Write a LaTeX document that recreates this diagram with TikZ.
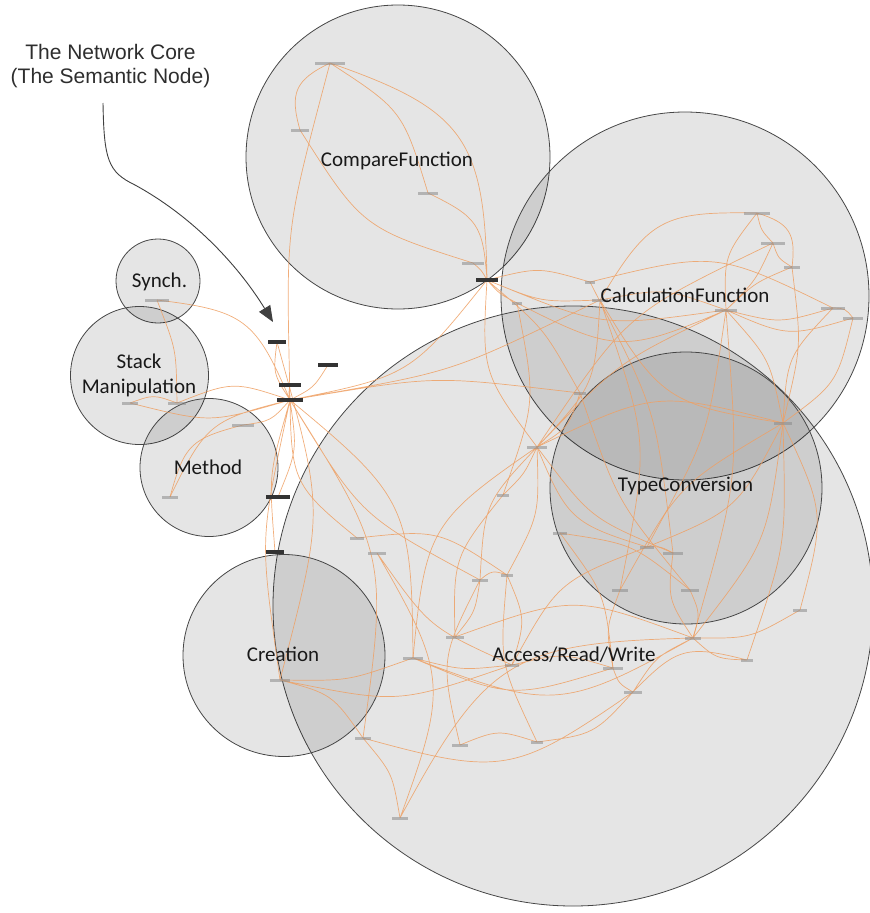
\documentclass[tikz,border=0pt]{standalone}
\usepackage{fontspec}
\usetikzlibrary{arrows.meta}
\newfontfamily\lblfont{Carlito}
\newfontfamily\notefont{Liberation Sans}
\definecolor{ringgray}{RGB}{70,70,70}
\definecolor{edgeor}{RGB}{238,160,100}
\definecolor{notegray}{RGB}{64,64,64}

\tikzset{
  group/.style={circle, draw=ringgray, line width=0.8pt, fill=black, fill opacity=0.1, inner sep=0pt, minimum size=#1},
  grouplbl/.style={font=\lblfont\fontsize{21}{25}\selectfont, text=black!90, align=center},
  edge/.style={draw=edgeor, line width=0.7pt, opacity=0.85, looseness=1.35},
  tag/.style={fill=black!80, inner sep=0pt, minimum width=#1, minimum height=4pt},
  tag/.default=16pt,
  faint/.style={fill=black!45, fill opacity=0.55, inner sep=0pt, minimum width=#1, minimum height=3pt},
  faint/.default=14pt,
}

\begin{document}
\begin{tikzpicture}[x=1pt,y=-1pt]
    \useasboundingbox (0,0) rectangle (870,913);
    % groups
    \node[group=304pt] (cmp) at (398,157) {};
    \node[group=368pt] (calc) at (685,296) {};
    \node[group=600pt] (acc) at (573,606) {};
    \node[group=272pt] (conv) at (686,488) {};
    \node[group=84pt] (sync) at (158,281) {};
    \node[group=138pt] (stack) at (139.5,375.5) {};
    \node[group=138pt] (meth) at (209,467.5) {};
    \node[group=202pt] (crea) at (284,655.5) {};
    % semantic nodes
    \coordinate (core) at (290,400);
    \coordinate (c1) at (277,342);
    \coordinate (c2) at (328,365);
    \coordinate (c3) at (290,385);
    \coordinate (c4) at (278,497);
    \coordinate (c5) at (275,552);
    \coordinate (cmphub) at (487,280);
    \coordinate (cmp1) at (473,263);
    \coordinate (cmptop) at (330,63);
    \coordinate (cmp2) at (300,130);
    \coordinate (cmp3) at (428,193);
    \coordinate (syn1) at (157,300);
    \coordinate (stk1) at (130,403);
    \coordinate (stk2) at (177,403);
    \coordinate (met1) at (243,425);
    \coordinate (met2) at (170,497);
    \coordinate (cre1) at (280,680);
    \coordinate (cre2) at (363,738);
    \coordinate (cre3) at (400,818);
    \coordinate (cre4) at (357,538);
    \coordinate (cre5) at (377,553);
    \coordinate (acc1) at (480,580);
    \coordinate (acc2) at (507,575);
    \coordinate (acc3) at (455,637);
    \coordinate (acc4) at (413,658);
    \coordinate (acc5) at (512,665);
    \coordinate (acc6) at (613,668);
    \coordinate (acc7) at (633,692);
    \coordinate (acc8) at (693,638);
    \coordinate (acc9) at (460,745);
    \coordinate (acc10) at (537,742);
    \coordinate (acc11) at (747,660);
    \coordinate (acc12) at (537,447);
    \coordinate (acc13) at (503,495);
    \coordinate (acc14) at (560,533);
    \coordinate (cal1) at (600,300);
    \coordinate (cal2) at (726,310);
    \coordinate (cal3) at (757,213);
    \coordinate (cal4) at (773,243);
    \coordinate (cal5) at (792,267);
    \coordinate (cal6) at (833,308);
    \coordinate (cal7) at (853,318);
    \coordinate (cal8) at (580,393);
    \coordinate (cal9) at (517,303);
    \coordinate (cal10) at (590,282);
    \coordinate (conv1) at (783,423);
    \coordinate (conv2) at (647,547);
    \coordinate (conv3) at (673,553);
    \coordinate (conv4) at (620,590);
    \coordinate (conv5) at (690,590);
    \coordinate (conv6) at (800,610);
    % connectors
    \draw[edge] (core) to[bend left=20] (c1) (core) to[bend right=15] (c2)
        (core) to[bend left=10] (c3) (core) to[bend left=8] (cmptop)
        (core) to[bend right=20] (cmphub) (core) to[bend right=8] (cal1)
        (core) to[bend left=8] (cal8) (core) to[bend left=25] (acc4)
        (core) to[bend right=10] (cre1) (core) to[bend left=15] (c4)
        (core) to[bend right=10] (c5) (core) to[bend right=20] (stk2)
        (core) to[bend left=15] (stk1) (core) to[bend left=20] (met1)
        (core) to[bend right=25] (met2) (core) to[bend right=30] (syn1)
        (core) to[bend left=20] (cre2) (core) to[bend right=15] (acc1)
        (core) to[bend right=25] (cre4);
    \draw[edge] (cmptop) to[bend right=40] (cmp2) (cmptop) to[bend left=20] (cmp3)
        (cmptop) to[bend left=35] (cmphub) (cmp3) to[bend left=30] (cmphub)
        (cmp1) to[bend left=10] (cmphub) (cmphub) to[bend right=10] (cal9)
        (cmphub) to[bend right=12] (cal1) (cmphub) to[bend right=15] (cal2)
        (cmphub) to[bend right=20] (acc12) (cmphub) to[bend left=10] (cal8)
        (cmphub) to[bend left=15] (cal10) (cmp2) to[bend right=20] (cmp1);
    \draw[edge] (cal2) to[bend left=20] (cal3) (cal2) to[bend right=10] (cal4)
        (cal2) to[bend left=10] (cal5) (cal2) to[bend right=15] (cal6)
        (cal2) to[bend right=20] (cal7) (cal2) to[bend left=10] (conv2)
        (cal2) to[bend left=10] (acc8) (cal2) to[bend right=15] (cal1)
        (cal2) to[bend right=10] (acc12) (cal2) to[bend left=15] (conv1)
        (cal3) to[bend left=40] (cal5) (cal4) to[bend right=20] (cal5)
        (cal5) to[bend left=10] (conv1) (cal6) to[bend right=20] (conv1)
        (cal7) to[bend left=20] (conv1) (cal3) to[bend right=30] (cal1)
        (cal4) to[bend right=15] (acc12) (cal1) to[bend left=20] (acc12)
        (cal1) to[bend right=25] (conv1) (cal1) to[bend left=15] (conv4)
        (cal8) to[bend right=10] (conv5) (cal8) to[bend left=20] (acc12)
        (cal9) to[bend right=25] (cal2) (cal10) to[bend left=20] (cal6)
        (cal9) to[bend left=15] (acc13) (cal10) to[bend left=10] (conv3)
        (cal6) to[bend left=25] (cal7) (cal3) to[bend right=15] (cal4);
    \draw[edge] (conv1) to[bend left=20] (conv2) (conv1) to[bend right=15] (conv4)
        (conv1) to[bend left=15] (acc8) (conv1) to[bend right=20] (acc12)
        (conv1) to[bend left=10] (acc11) (conv2) to[bend left=15] (conv3)
        (conv3) to[bend right=20] (acc8) (conv2) to[bend left=25] (acc12)
        (conv4) to[bend right=15] (acc6) (conv5) to[bend left=20] (acc8)
        (conv6) to[bend right=20] (conv1) (conv6) to[bend left=15] (acc8)
        (conv5) to[bend right=15] (acc14) (conv2) to[bend right=20] (acc5);
    \draw[edge] (acc12) to[bend right=20] (acc1) (acc12) to[bend left=15] (acc2)
        (acc12) to[bend left=10] (acc13) (acc12) to[bend right=25] (acc4)
        (acc12) to[bend right=15] (conv3) (acc1) to[bend left=30] (acc2)
        (acc1) to[bend left=15] (acc3) (acc1) to[bend right=20] (acc9)
        (acc2) to[bend left=20] (acc5) (acc2) to[bend right=15] (acc10)
        (acc4) to[bend right=10] (acc5) (acc4) to[bend right=20] (acc6)
        (acc4) to[bend left=10] (cre1) (acc4) to[bend right=25] (acc8)
        (acc5) to[bend left=15] (acc6) (acc6) to[bend right=20] (acc7)
        (acc7) to[bend left=15] (acc8) (acc8) to[bend right=20] (acc11)
        (acc9) to[bend left=20] (acc10) (acc10) to[bend right=20] (acc7)
        (cre2) to[bend right=25] (acc7) (cre3) to[bend left=30] (acc8)
        (cre3) to[bend right=15] (cre2) (cre1) to[bend right=15] (acc5)
        (cre1) to[bend left=20] (cre2) (acc3) to[bend left=20] (acc8)
        (acc14) to[bend left=15] (acc6) (acc13) to[bend right=20] (acc3)
        (cre4) to[bend left=20] (acc2) (cre5) to[bend right=15] (acc5)
        (cre5) to[bend left=25] (cre3) (acc11) to[bend right=30] (acc7);
    \draw[edge] (stk1) to[bend left=20] (stk2) (met2) to[bend left=30] (met1)
        (syn1) to[bend left=10] (stk2) (c1) to[bend left=15] (cre1);
    % label marks
    \foreach \p/\w in {core/26pt, c1/18pt, c2/20pt, c3/22pt, c4/24pt, c5/18pt, cmphub/22pt}
        \node[tag=\w] (t-\p) at (\p) {};
    \foreach \p/\w in {cmptop/30pt, cmp2/18pt, cmp3/20pt, cmp1/22pt, syn1/24pt, stk1/16pt,
        stk2/18pt, met1/22pt, met2/16pt, cre1/20pt, cre2/16pt, cre3/16pt, cre4/14pt, cre5/18pt,
        acc1/16pt, acc2/12pt, acc3/18pt, acc4/20pt, acc5/14pt, acc6/20pt, acc7/18pt, acc8/16pt,
        acc9/16pt, acc10/12pt, acc11/12pt, acc12/20pt, acc13/12pt, acc14/14pt, cal1/16pt,
        cal2/22pt, cal3/26pt, cal4/24pt, cal5/16pt, cal6/24pt, cal7/20pt, cal8/12pt, cal9/10pt,
        cal10/10pt, conv1/18pt, conv2/14pt, conv3/20pt, conv4/16pt, conv5/18pt, conv6/14pt}
        \node[faint=\w] (t-\p) at (\p) {};
    % group names
    \node[grouplbl, anchor=base] (cmplbl) at (397,166) {CompareFunction};
    \node[grouplbl, anchor=base] (calclbl) at (685,302.5) {CalculationFunction};
    \node[grouplbl, anchor=base] (convlbl) at (685.5,491.5) {TypeConversion};
    \node[grouplbl, anchor=base] (acclbl) at (574,661.5) {Access/Read/Write};
    \node[grouplbl, anchor=base] (crealbl) at (283,661.5) {Creation};
    \node[grouplbl, anchor=base] (methlbl) at (208,474) {Method};
    \node[grouplbl] (stacklbl) at (139,375.5) {Stack\\Manipulation};
    \node[grouplbl, anchor=base] (synclbl) at (159.5,287.7) {Synch.};
    % annotation
    \node[font=\notefont\fontsize{21}{24}\selectfont, text=black!82, align=center] (note) at (110.5,66) {The Network Core\\(The Semantic Node)};
    \coordinate (notefoot) at (103,103);
    \coordinate (notetip) at (273,322);
    \draw[notegray, line width=0.9pt, -{Triangle[length=16pt,width=13pt]}] (notefoot) .. controls (104,160) and (108,172) .. (135,185) .. controls (190,215) and (236,262) .. (notetip);
\end{tikzpicture}
\end{document}
